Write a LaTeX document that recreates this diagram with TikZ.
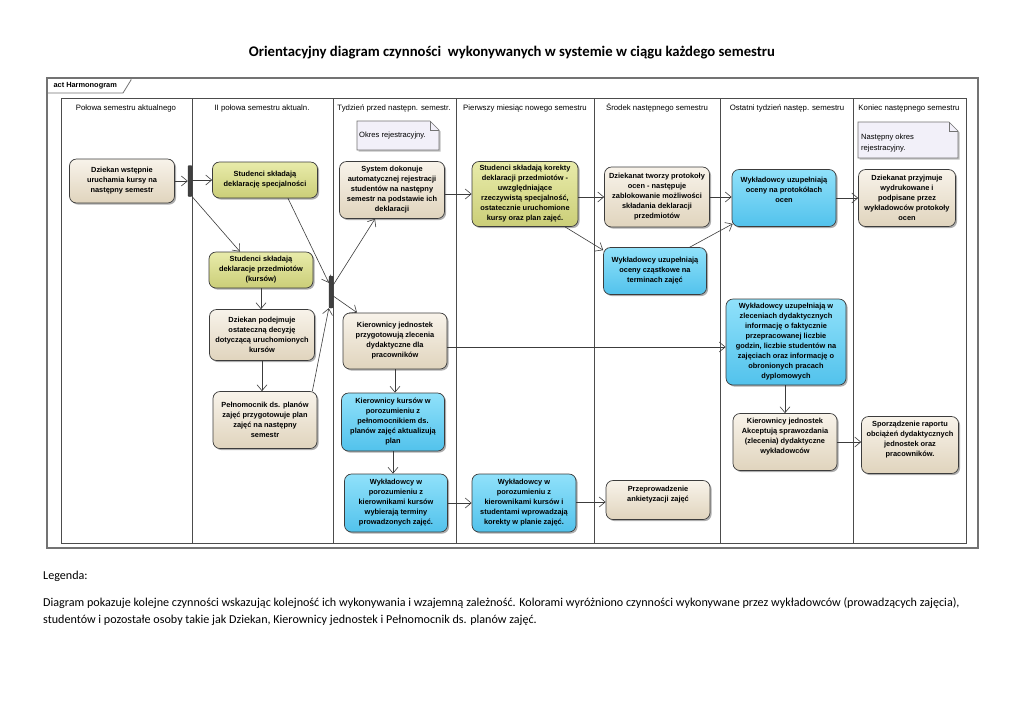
\documentclass[tikz,border=0pt]{standalone}
\usepackage{fontspec}
\setmainfont{Liberation Sans}
\newfontfamily\calibri{Carlito}
\usetikzlibrary{arrows.meta,shadows,backgrounds}
\definecolor{beigeT}{HTML}{F8F3EA}
\definecolor{beigeB}{HTML}{E0D4BD}
\definecolor{yelT}{HTML}{E8EBAA}
\definecolor{yelB}{HTML}{CBCE78}
\definecolor{bluT}{HTML}{90E1FA}
\definecolor{bluB}{HTML}{52C2EC}
\definecolor{noteF}{HTML}{F2F0F9}
\definecolor{lineG}{HTML}{3C3C3C}
\tikzset{
 act/.style={rounded corners=7pt, draw=lineG, line width=0.7pt, align=center,
   font=\bfseries\fontsize{7.4}{10}\selectfont, inner sep=0.5pt,
   drop shadow={shadow xshift=1.6pt, shadow yshift=-1.6pt, opacity=0.45, fill=black!70}},
 beige/.style={act, top color=beigeT, bottom color=beigeB},
 yel/.style={act, top color=yelT, bottom color=yelB},
 blu/.style={act, top color=bluT, bottom color=bluB},
 bar/.style={rounded corners=1pt, fill=black!75, draw=black!80, minimum width=4pt, inner sep=0pt},
 arr/.style={draw=lineG, line width=0.6pt, -{Straight Barb[length=6pt,width=10pt,line width=0.6pt]}},
 lane/.style={draw=black!70, line width=0.7pt},
 lanehead/.style={font=\fontsize{7.8}{9}\selectfont, anchor=base, inner sep=0pt},
 notetext/.style={font=\fontsize{7.6}{11}\selectfont, align=left, inner sep=0pt, anchor=north west},
 notebox/.style={fill=noteF, draw=black!55, line width=0.6pt,
   drop shadow={shadow xshift=1.5pt, shadow yshift=-1.5pt, opacity=0.35, fill=black!70}},
}
\begin{document}
\begin{tikzpicture}[x=1pt,y=-1pt]
\useasboundingbox[fill=white] (0,0) rectangle (1024,724);
% title
\node[font=\calibri\bfseries\fontsize{14.7}{17}\selectfont] (title) at (512,53) {Orientacyjny diagram czynności\ \ wykonywanych w systemie w ciągu każdego semestru};
% frame
\draw[draw=black!55, line width=1.1pt] (47,78) rectangle (978,548);
\draw[draw=black!55, line width=0.8pt] (47,93) -- (123,93) -- (131,80) -- (131,78);
\node[font=\bfseries\fontsize{7.4}{9}\selectfont, anchor=west] (act) at (50,86) {act Harmonogram};
% lanes
\draw[lane] (61,98) rectangle (966,543);
\foreach \xx in {192,333,456,594,720,853} \draw[lane] (\xx,98) -- (\xx,543);
\node[lanehead] (h1) at (126,110) {Połowa semestru aktualnego};
\node[lanehead] (h2) at (262,110) {II połowa semestru aktualn.};
\node[lanehead] (h3) at (394,110) {Tydzień przed następn. semestr.};
\node[lanehead] (h4) at (525,110) {Pierwszy miesiąc nowego semestru};
\node[lanehead] (h5) at (657,110) {Środek następnego semestru};
\node[lanehead] (h6) at (787,110) {Ostatni tydzień następ. semestru};
\node[lanehead] (h7) at (909,110) {Koniec następnego semestru};
% notes
\draw[notebox] (357,121) -- (430,121) -- (439,130) -- (439,150) -- (357,150) -- cycle;
\draw[draw=black!55, line width=0.6pt] (430,121) -- (430,130) -- (439,130);
\node[notetext] (n1) at (359,132) {Okres rejestracyjny.};
\draw[notebox] (858,122) -- (949,122) -- (958,131) -- (958,158) -- (858,158) -- cycle;
\draw[draw=black!55, line width=0.6pt] (949,122) -- (949,131) -- (958,131);
\node[notetext] (n2) at (861,134) {Następny okres\\rejestracyjny.};
% bars
\node[bar, minimum height=31pt] (fork) at (190,181) {};
\node[bar, minimum height=32pt] (join) at (331,292) {};
% activities
\node[beige, minimum width=105pt, minimum height=44pt] (d1) at (122,181) {Dziekan wstępnie\\uruchamia kursy na\\następny semestr};
\node[yel, minimum width=105pt, minimum height=36pt] (s1) at (265,180) {Studenci składają\\deklarację specjalności};
\node[yel, minimum width=104pt, minimum height=36pt] (s2) at (261,270) {Studenci składają\\deklaracje przedmiotów\\(kursów)};
\node[beige, minimum width=105pt, minimum height=51pt] (dz) at (262,335) {Dziekan podejmuje\\ostateczną decyzję\\dotyczącą uruchomionych\\kursów};
\node[beige, minimum width=104pt, minimum height=57pt] (pl) at (265,420) {Pełnomocnik ds. planów\\zajęć przygotowuje plan\\zajęć na następny\\semestr};
\node[beige, minimum width=105pt, minimum height=57pt] (sys) at (392,190) {System dokonuje\\automatycznej rejestracji\\studentów na następny\\semestr na podstawie ich\\deklaracji};
\node[yel, minimum width=106pt, minimum height=65pt] (sk) at (525,194) {Studenci składają korekty\\deklaracji przedmiotów -\\uwzględniające\\rzeczywistą specjalność,\\ostatecznie uruchomione\\kursy oraz plan zajęć.};
\node[beige, minimum width=105pt, minimum height=60pt] (dt) at (657,197) {Dziekanat tworzy protokoły\\ocen - następuje\\zablokowanie możliwości\\składania deklaracji\\przedmiotów};
\node[blu, minimum width=104pt, minimum height=57pt] (wo) at (784,198) {Wykładowcy uzupełniają\\oceny na protokółach\\ocen\\[6pt]};
\node[beige, minimum width=97pt, minimum height=57pt] (dp) at (907,198) {Dziekanat przyjmuje\\wydrukowane i\\podpisane przez\\wykładowców protokoły\\ocen};
\node[blu, minimum width=103pt, minimum height=47pt] (w1) at (655,271) {Wykładowcy uzupełniają\\oceny cząstkowe na\\terminach zajęć};
\node[blu, minimum width=120pt, minimum height=86pt] (wz) at (786,342) {Wykładowcy uzupełniają w\\zleceniach dydaktycznych\\informację o faktycznie\\przepracowanej liczbie\\godzin, liczbie studentów na\\zajęciach oraz informację o\\obronionych pracach\\dyplomowych};
\node[beige, minimum width=104pt, minimum height=56pt] (kj) at (395,341) {Kierownicy jednostek\\przygotowują zlecenia\\dydaktyczne dla\\pracowników};
\node[blu, minimum width=103pt, minimum height=58pt] (kk) at (393,422) {Kierownicy kursów w\\porozumieniu z\\pełnomocnikiem ds.\\planów zajęć aktualizują\\plan};
\node[blu, minimum width=103pt, minimum height=58pt] (wt) at (396,503) {Wykładowcy w\\porozumieniu z\\kierownikami kursów\\wybierają terminy\\prowadzonych zajęć.};
\node[blu, minimum width=104pt, minimum height=58pt] (wp) at (524,503) {Wykładowcy w\\porozumieniu z\\kierownikami kursów i\\studentami wprowadzają\\korekty w planie zajęć.};
\node[beige, minimum width=104pt, minimum height=39pt] (pa) at (658,500) {Przeprowadzenie\\ankietyzacji zajęć\\[3pt]};
\node[beige, minimum width=104pt, minimum height=57pt] (ka) at (785,442) {Kierownicy jednostek\\Akceptują sprawozdania\\(zlecenia) dydaktyczne\\wykładowców\\[3pt]};
\node[beige, minimum width=97pt, minimum height=57pt] (sr) at (910,445) {Sporządzenie raportu\\obciążeń dydaktycznych\\jednostek oraz\\pracowników.\\[3pt]};
% connectors
\draw[arr] (d1.east) -- (fork.west |- d1.east);
\draw[arr] (fork.east |- s1.west) -- (s1.west);
\draw[arr] (fork.south east) -- ([xshift=-21pt]s2.north);
\draw[arr] ([xshift=23pt]s1.south) -- ([yshift=-7pt]join.north west);
\draw[arr] (s2.south) -- (s2.south |- dz.north);
\draw[arr] (dz.south) -- (dz.south |- pl.north);
\draw[arr] ([xshift=-5pt]pl.north east) -- (join.south west);
\draw[arr] ([yshift=7pt]join.east) -- ([xshift=-17pt]sys.south);
\draw[arr] ([yshift=-4pt]join.east) -- ([xshift=-38pt]kj.north);
\draw[arr] (sys.east |- sk.west) -- (sk.west);
\draw[arr] (sk.east |- dt.west) -- (dt.west);
\draw[arr] ([xshift=40pt]sk.south) -- ([yshift=-3pt]w1.north west);
\draw[arr] ([xshift=-17pt]w1.north east) -- ([xshift=1pt,yshift=3pt]wo.south west);
\draw[arr] (dt.east) -- (dt.east -| wo.west);
\draw[arr] (wo.east) -- (wo.east -| dp.west);
\draw[arr] ([yshift=-6pt]kj.east) -- ([yshift=-6pt]kj.east -| wz.west);
\draw[arr] (kj.south) -- (kj.south |- kk.north);
\draw[arr] (kk.south) -- (kk.south |- wt.north);
\draw[arr] (wt.east) -- (wt.east -| wp.west);
\draw[arr] ([yshift=1pt]wp.east) -- ([yshift=1pt]wp.east -| pa.west);
\draw[arr] (wz.south -| ka.north) -- (ka.north);
\draw[arr] (ka.east) -- (ka.east -| sr.west);
% legend
\node[font=\calibri\fontsize{12.1}{17}\selectfont, anchor=west, inner sep=0pt] (leg) at (43,576) {Legenda:};
\node[font=\calibri\fontsize{12.1}{17}\selectfont, anchor=north west, align=left, inner sep=0pt] (legtext) at (43,597) {Diagram pokazuje kolejne czynności wskazując kolejność ich wykonywania i wzajemną zależność. Kolorami wyróżniono czynności wykonywane przez wykładowców (prowadzących zajęcia),\\studentów i pozostałe osoby takie jak Dziekan, Kierownicy jednostek i Pełnomocnik ds. planów zajęć.};
\end{tikzpicture}
\end{document}
